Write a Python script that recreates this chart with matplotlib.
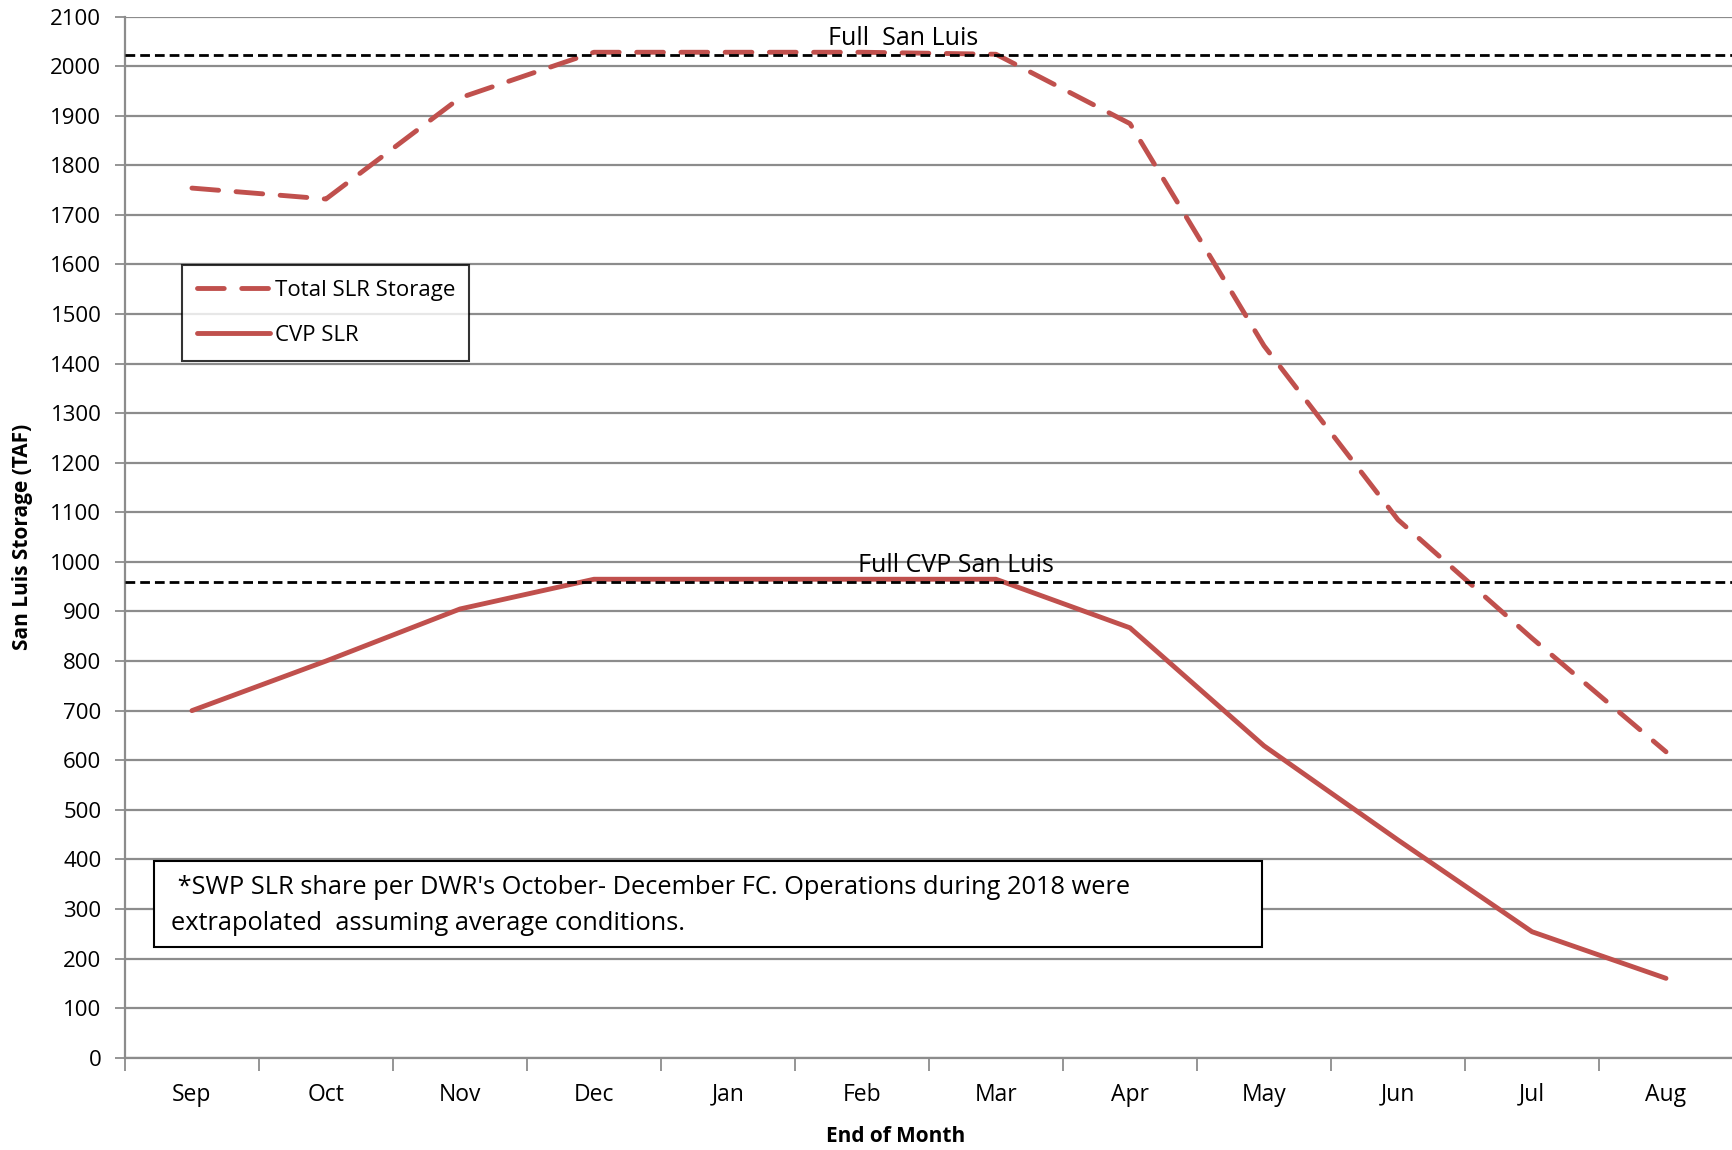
import matplotlib
matplotlib.use("Agg")
import matplotlib.pyplot as plt
import numpy as np
from matplotlib.ticker import FixedLocator
from matplotlib.patches import Rectangle

months = ["Sep", "Oct", "Nov", "Dec", "Jan", "Feb", "Mar", "Apr", "May", "Jun", "Jul", "Aug"]
total_slr = [1754, 1732, 1936, 2028, 2028, 2028, 2024, 1884, 1436, 1085, 846, 617]
cvp_slr = [700, 800, 905, 965, 965, 965, 965, 867, 629, 439, 254, 160]
full_san_luis = 2022
full_cvp = 959
yticks = list(range(0, 2101, 100))

plt.rcParams['font.family'] = ['Open Sans', 'DejaVu Sans']

fig = plt.figure(figsize=(17.33, 11.5), dpi=100)
ax = fig.add_axes([0.0721, 0.0803, 0.9279, 0.9053])

x = np.arange(len(months))
red = "#c0504d"
grid_c = "#8c8c8c"

for y in yticks:
    ax.axhline(y, color=grid_c, lw=1.6, zorder=1)

ax.plot(x, total_slr, color=red, lw=3.5, dashes=(5.5, 3.6), dash_capstyle='round',
        solid_capstyle='round', label="Total SLR Storage", zorder=3)
ax.plot(x, cvp_slr, color=red, lw=3.5, solid_capstyle='round', label="CVP SLR", zorder=3)

ax.axhline(full_san_luis, color="black", lw=2.0, dashes=(3.5, 1.8), zorder=4)
ax.axhline(full_cvp, color="black", lw=2.0, dashes=(3.5, 1.8), zorder=4)
ax.text(5.31, full_san_luis + 8, "Full  San Luis", ha="center", va="bottom", fontsize=18)
ax.text(5.70, full_cvp + 8, "Full CVP San Luis", ha="center", va="bottom", fontsize=18)

ax.set_xlim(-0.5, 11.5)
ax.set_ylim(0, 2100)
ax.set_yticks(yticks)
ax.set_yticklabels([str(v) for v in yticks], fontsize=16)
ax.set_xticks(x)
ax.set_xticklabels(months, fontsize=16.5)
ax.xaxis.set_minor_locator(FixedLocator(np.arange(-0.5, 12, 1)))
ax.tick_params(axis='x', which='major', length=0, pad=18)
ax.tick_params(axis='x', which='minor', length=9, color=grid_c, width=1.3)
ax.tick_params(axis='y', length=7, color=grid_c, width=1.3, pad=10)

for s in ["top", "right"]:
    ax.spines[s].set_visible(False)
ax.spines["left"].set_color(grid_c)
ax.spines["left"].set_linewidth(1.6)
ax.spines["bottom"].set_color(grid_c)
ax.spines["bottom"].set_linewidth(1.6)

ax.set_ylabel("San Luis Storage (TAF)", fontsize=15, fontweight="bold")
ax.yaxis.set_label_coords(-0.057, 0.5)
ax.set_xlabel("End of Month", fontsize=15, fontweight="bold")
ax.xaxis.set_label_coords(0.479, -0.066)

leg = ax.legend(loc="upper left", bbox_to_anchor=(0.0357, 0.761), fontsize=16,
                frameon=True, fancybox=False, edgecolor="black", handlelength=3.3,
                handletextpad=0.2, borderpad=0.65, labelspacing=1.1, borderaxespad=0)
leg.get_frame().set_linewidth(1.5)

ax.add_patch(Rectangle((0.0179, 0.106), 0.689, 0.083, transform=ax.transAxes,
                       facecolor="white", edgecolor="black", lw=1.5, zorder=5))
ax.text(0.0289, 0.1635, " *SWP SLR share per DWR's October- December FC. Operations during 2018 were",
        transform=ax.transAxes, fontsize=18.3, ha="left", va="center", zorder=6)
ax.text(0.0289, 0.1285, "extrapolated  assuming average conditions.",
        transform=ax.transAxes, fontsize=18.3, ha="left", va="center", zorder=6)

fig.savefig("out.png", dpi=100)
